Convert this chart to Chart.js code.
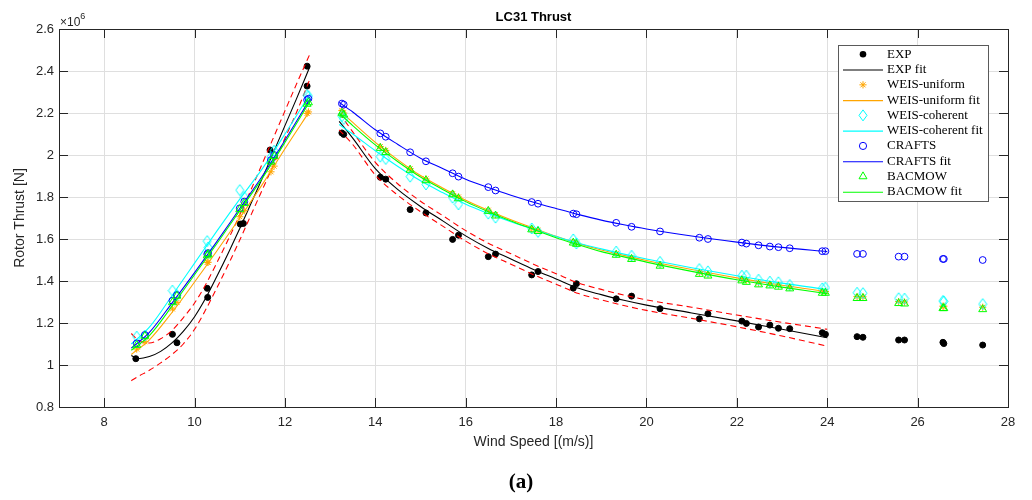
<!DOCTYPE html>
<html><head><meta charset="utf-8">
<script src="https://cdn.jsdelivr.net/npm/chart.js@4.4.1/dist/chart.umd.min.js"></script>
<style>html,body{margin:0;padding:0;background:#fff;}</style>
</head><body>
<canvas id="c" width="1032" height="500"></canvas>
<script>
// ---------- tick labels ----------
const xTicks = [8, 10, 12, 14, 16, 18, 20, 22, 24, 26, 28];
const yTicks = [0.8, 1, 1.2, 1.4, 1.6, 1.8, 2, 2.2, 2.4, 2.6];

// ---------- measured points (thrust in 10^6 N) ----------
const windLeft = [8.72, 8.90, 9.51, 9.61, 10.28, 10.30, 11.00, 11.10, 11.69, 11.76, 12.49, 12.52];
const windRight = [13.26, 13.30, 14.11, 14.23, 14.77, 15.12, 15.71, 15.84, 16.50, 16.66, 17.46, 17.60, 18.38, 18.45, 19.33, 19.67, 20.30, 21.17, 21.36, 22.11, 22.21, 22.48, 22.73, 22.92, 23.17, 23.89, 23.96, 24.66, 24.79, 25.58, 25.71, 26.56, 26.58, 27.44];

const expWindLeft = [8.70, 9.51, 9.61, 10.28, 10.29, 11.01, 11.08, 11.67, 12.49, 12.49];
const expLeft = [1.030, 1.146, 1.106, 1.365, 1.322, 1.671, 1.674, 2.024, 2.328, 2.423];
const expRight = [2.105, 2.098, 1.894, 1.885, 1.740, 1.724, 1.598, 1.618, 1.516, 1.528, 1.429, 1.445, 1.366, 1.387, 1.315, 1.328, 1.268, 1.220, 1.244, 1.209, 1.198, 1.181, 1.190, 1.175, 1.173, 1.154, 1.146, 1.135, 1.132, 1.119, 1.119, 1.108, 1.102, 1.095];

const uniformLeft = [1.076, 1.111, 1.267, 1.298, 1.489, 1.489, 1.706, 1.735, 1.920, 1.947, 2.198, 2.205];
const uniformRight = [2.212, 2.200, 2.040, 2.022, 1.935, 1.886, 1.816, 1.800, 1.737, 1.716, 1.648, 1.641, 1.586, 1.580, 1.530, 1.510, 1.478, 1.440, 1.432, 1.410, 1.404, 1.391, 1.385, 1.380, 1.372, 1.351, 1.350, 1.326, 1.325, 1.302, 1.300, 1.280, 1.280, 1.275];

const coherentLeft = [1.135, 1.140, 1.354, 1.333, 1.590, 1.560, 1.833, 1.800, 1.990, 2.020, 2.285, 2.280];
const coherentRight = [2.185, 2.172, 1.992, 1.981, 1.897, 1.860, 1.797, 1.765, 1.721, 1.702, 1.650, 1.634, 1.598, 1.579, 1.540, 1.520, 1.491, 1.457, 1.446, 1.425, 1.425, 1.406, 1.397, 1.394, 1.381, 1.365, 1.368, 1.344, 1.342, 1.318, 1.316, 1.305, 1.303, 1.290];

const craftsLeft = [1.103, 1.143, 1.306, 1.333, 1.528, 1.533, 1.746, 1.778, 1.976, 2.000, 2.262, 2.268];
const craftsRight = [2.245, 2.240, 2.103, 2.087, 2.013, 1.970, 1.913, 1.897, 1.847, 1.831, 1.776, 1.768, 1.721, 1.718, 1.677, 1.658, 1.636, 1.606, 1.600, 1.583, 1.578, 1.570, 1.564, 1.561, 1.556, 1.542, 1.542, 1.529, 1.529, 1.516, 1.516, 1.505, 1.505, 1.500];

const bacmowLeft = [1.095, 1.138, 1.298, 1.329, 1.521, 1.528, 1.741, 1.770, 1.968, 1.995, 2.243, 2.250];
const bacmowRight = [2.200, 2.192, 2.033, 2.013, 1.929, 1.879, 1.812, 1.793, 1.733, 1.711, 1.645, 1.637, 1.582, 1.576, 1.524, 1.504, 1.472, 1.433, 1.425, 1.402, 1.395, 1.383, 1.378, 1.372, 1.364, 1.343, 1.343, 1.318, 1.318, 1.294, 1.292, 1.270, 1.270, 1.265];

// ---------- fitted curves ----------
const expFitWindLeft = [8.6, 8.75, 9.0, 9.25, 9.5, 9.75, 10.0, 10.25, 10.5, 10.75, 11.0, 11.25, 11.5, 11.75, 12.0, 12.25, 12.55];
const expFitLeft   = [1.045, 1.030, 1.040, 1.065, 1.105, 1.160, 1.230, 1.320, 1.425, 1.535, 1.650, 1.770, 1.890, 2.015, 2.140, 2.265, 2.420];
const expUpperLeft = [1.150, 1.120, 1.105, 1.125, 1.165, 1.225, 1.295, 1.385, 1.490, 1.600, 1.715, 1.835, 1.960, 2.085, 2.210, 2.335, 2.480];
const expLowerLeft = [0.925, 0.945, 0.975, 1.010, 1.050, 1.100, 1.170, 1.265, 1.370, 1.480, 1.595, 1.715, 1.835, 1.955, 2.080, 2.200, 2.360];

const fitWindRight = [13.2, 13.5, 14, 14.5, 15, 15.5, 16, 16.5, 17, 17.5, 18, 18.5, 19, 19.5, 20, 21, 22, 23, 24];
const expFitRight   = [2.160, 2.080, 1.935, 1.835, 1.755, 1.685, 1.615, 1.555, 1.505, 1.455, 1.410, 1.365, 1.335, 1.308, 1.285, 1.248, 1.210, 1.170, 1.130];
const expUpperRight = [2.200, 2.110, 1.965, 1.862, 1.780, 1.710, 1.640, 1.580, 1.530, 1.480, 1.435, 1.390, 1.360, 1.333, 1.310, 1.275, 1.238, 1.203, 1.170];
const expLowerRight = [2.120, 2.050, 1.905, 1.808, 1.730, 1.660, 1.590, 1.530, 1.480, 1.430, 1.385, 1.340, 1.310, 1.283, 1.260, 1.222, 1.182, 1.138, 1.090];

const modelFitWindLeft = [8.6, 9.0, 9.5, 10.0, 10.5, 11.0, 11.5, 12.0, 12.55];
const uniformFitLeft  = [1.050, 1.120, 1.250, 1.395, 1.545, 1.700, 1.860, 2.030, 2.210];
const coherentFitLeft = [1.100, 1.180, 1.330, 1.485, 1.640, 1.790, 1.935, 2.100, 2.290];
const craftsFitLeft   = [1.080, 1.155, 1.295, 1.440, 1.590, 1.745, 1.900, 2.070, 2.265];
const bacmowFitLeft   = [1.070, 1.140, 1.280, 1.430, 1.580, 1.735, 1.890, 2.060, 2.255];

const uniformFitRight  = [2.215, 2.155, 2.060, 1.977, 1.902, 1.842, 1.784, 1.736, 1.692, 1.652, 1.613, 1.578, 1.548, 1.522, 1.498, 1.455, 1.415, 1.380, 1.350];
const coherentFitRight = [2.145, 2.100, 2.020, 1.945, 1.877, 1.820, 1.766, 1.722, 1.682, 1.646, 1.612, 1.580, 1.553, 1.528, 1.505, 1.463, 1.425, 1.390, 1.360];
const craftsFitRight   = [2.250, 2.205, 2.120, 2.050, 1.985, 1.935, 1.885, 1.845, 1.808, 1.775, 1.745, 1.716, 1.690, 1.668, 1.648, 1.614, 1.585, 1.560, 1.540];
const bacmowFitRight   = [2.200, 2.140, 2.048, 1.968, 1.895, 1.835, 1.778, 1.730, 1.686, 1.646, 1.606, 1.572, 1.540, 1.515, 1.490, 1.446, 1.406, 1.371, 1.340];

// ---------- styling ----------
const SANS = "'Liberation Sans', Arial, Helvetica, sans-serif";
const SERIF = "'Liberation Serif', 'Times New Roman', serif";
const AX = '#262626';
const C_EXP = '#000000', C_UNI = '#FFA500', C_COH = '#00FFFF', C_CRA = '#0000FF', C_BAC = '#00FF00', C_BND = '#FF0000';

function diamondCanvas(color) {
  const c = document.createElement('canvas');
  c.width = 10; c.height = 13;
  const g = c.getContext('2d');
  g.strokeStyle = color; g.lineWidth = 1;
  g.beginPath(); g.moveTo(5, 1); g.lineTo(9, 6.5); g.lineTo(5, 12); g.lineTo(1, 6.5); g.closePath(); g.stroke();
  return c;
}
const diamondImg = diamondCanvas(C_COH);

const pts = (xs, ys) => xs.map((x, i) => ({x: x, y: ys[i]}));
function scatterSet(label, xs, ys, style, color, r, fill, order) {
  return {label, data: pts(xs, ys), showLine: false, pointStyle: style, pointRadius: r,
    pointBorderColor: color, pointBackgroundColor: fill ? color : 'rgba(0,0,0,0)',
    pointBorderWidth: 1, borderColor: color, backgroundColor: color, order};
}
function lineSet(label, xs, ys, color, order, dash) {
  return {label, data: pts(xs, ys), showLine: true, pointRadius: 0, borderColor: color,
    borderWidth: 1.1, borderDash: dash || [], cubicInterpolationMode: 'monotone', fill: false, order};
}

const datasets = [
  scatterSet('EXP', expWindLeft.concat(windRight), expLeft.concat(expRight), 'circle', C_EXP, 3, true, 20),
  lineSet('EXP fit', expFitWindLeft, expFitLeft, C_EXP, 19),
  lineSet('EXP fit', fitWindRight, expFitRight, C_EXP, 19),
  lineSet('bound', expFitWindLeft, expUpperLeft, C_BND, 18, [6, 4]),
  lineSet('bound', expFitWindLeft, expLowerLeft, C_BND, 18, [6, 4]),
  lineSet('bound', fitWindRight, expUpperRight, C_BND, 18, [6, 4]),
  lineSet('bound', fitWindRight, expLowerRight, C_BND, 18, [6, 4]),
  scatterSet('WEIS-uniform', windLeft.concat(windRight), uniformLeft.concat(uniformRight), 'star', C_UNI, 3.6, false, 17),
  lineSet('WEIS-uniform fit', modelFitWindLeft, uniformFitLeft, C_UNI, 16),
  lineSet('WEIS-uniform fit', fitWindRight, uniformFitRight, C_UNI, 16),
  scatterSet('WEIS-coherent', windLeft.concat(windRight), coherentLeft.concat(coherentRight), diamondImg, C_COH, 5, false, 15),
  lineSet('WEIS-coherent fit', modelFitWindLeft, coherentFitLeft, C_COH, 14),
  lineSet('WEIS-coherent fit', fitWindRight, coherentFitRight, C_COH, 14),
  scatterSet('CRAFTS', windLeft.concat(windRight), craftsLeft.concat(craftsRight), 'circle', C_CRA, 3.4, false, 13),
  lineSet('CRAFTS fit', modelFitWindLeft, craftsFitLeft, C_CRA, 12),
  lineSet('CRAFTS fit', fitWindRight, craftsFitRight, C_CRA, 12),
  scatterSet('BACMOW', windLeft.concat(windRight), bacmowLeft.concat(bacmowRight), 'triangle', C_BAC, 4.6, false, 11),
  lineSet('BACMOW fit', modelFitWindLeft, bacmowFitLeft, C_BAC, 10),
  lineSet('BACMOW fit', fitWindRight, bacmowFitRight, C_BAC, 10)
];

const legendItems = [
  {label: 'EXP', kind: 'pt', style: 'circle', color: C_EXP, r: 3.3, fill: true},
  {label: 'EXP fit', kind: 'line', color: C_EXP},
  {label: 'WEIS-uniform', kind: 'pt', style: 'star', color: C_UNI, r: 3.6},
  {label: 'WEIS-uniform fit', kind: 'line', color: C_UNI},
  {label: 'WEIS-coherent', kind: 'pt', style: 'diamond', color: C_COH, r: 5},
  {label: 'WEIS-coherent fit', kind: 'line', color: C_COH},
  {label: 'CRAFTS', kind: 'pt', style: 'circle', color: C_CRA, r: 3.6},
  {label: 'CRAFTS fit', kind: 'line', color: C_CRA},
  {label: 'BACMOW', kind: 'pt', style: 'triangle', color: C_BAC, r: 4.6},
  {label: 'BACMOW fit', kind: 'line', color: C_BAC}
];

function drawMarker(ctx, it, x, y) {
  ctx.save();
  ctx.strokeStyle = it.color; ctx.fillStyle = it.color; ctx.lineWidth = 1;
  const r = it.r;
  ctx.beginPath();
  if (it.style === 'circle') {
    ctx.arc(x, y, r, 0, Math.PI * 2);
    if (it.fill) ctx.fill(); else ctx.stroke();
  } else if (it.style === 'star') {
    ctx.moveTo(x - r, y); ctx.lineTo(x + r, y);
    ctx.moveTo(x, y - r); ctx.lineTo(x, y + r);
    const d = r * 0.7071;
    ctx.moveTo(x - d, y - d); ctx.lineTo(x + d, y + d);
    ctx.moveTo(x - d, y + d); ctx.lineTo(x + d, y - d);
    ctx.stroke();
  } else if (it.style === 'diamond') {
    ctx.moveTo(x, y - 5.5); ctx.lineTo(x + 4, y); ctx.lineTo(x, y + 5.5); ctx.lineTo(x - 4, y); ctx.closePath(); ctx.stroke();
  } else if (it.style === 'triangle') {
    const h = r * 0.866;
    ctx.moveTo(x, y - r); ctx.lineTo(x + h, y + r * 0.5); ctx.lineTo(x - h, y + r * 0.5); ctx.closePath(); ctx.stroke();
  }
  ctx.restore();
}

const decor = {
  id: 'decor',
  afterDraw(chart) {
    const ctx = chart.ctx, a = chart.chartArea;
    const xs = chart.scales.x, ys = chart.scales.y;
    ctx.save();
    // box
    ctx.strokeStyle = AX; ctx.lineWidth = 1;
    ctx.beginPath();
    ctx.moveTo(Math.round(a.left) + 0.5, Math.round(a.top) + 0.5);
    ctx.lineTo(Math.round(a.right) + 0.5, Math.round(a.top) + 0.5);
    ctx.lineTo(Math.round(a.right) + 0.5, Math.round(a.bottom) + 0.5);
    ctx.stroke();
    // inward ticks
    const TL = 9;
    ctx.beginPath();
    xTicks.forEach(v => {
      const px = Math.round(xs.getPixelForValue(v)) + 0.5;
      ctx.moveTo(px, a.bottom); ctx.lineTo(px, a.bottom - TL);
      ctx.moveTo(px, a.top); ctx.lineTo(px, a.top + TL);
    });
    yTicks.forEach(v => {
      const py = Math.round(ys.getPixelForValue(v)) + 0.5;
      ctx.moveTo(a.left, py); ctx.lineTo(a.left + TL, py);
      ctx.moveTo(a.right, py); ctx.lineTo(a.right - TL, py);
    });
    ctx.stroke();
    // exponent label
    ctx.fillStyle = AX; ctx.textBaseline = 'alphabetic'; ctx.textAlign = 'left';
    ctx.font = '12px ' + SANS;
    ctx.fillText('\u00d710', 60, 26);
    const w = ctx.measureText('\u00d710').width;
    ctx.font = '9px ' + SANS;
    ctx.fillText('6', 60 + w, 19);
    // title
    ctx.fillStyle = '#000';
    ctx.font = 'bold 13px ' + SANS; ctx.textAlign = 'center'; ctx.textBaseline = 'middle';
    ctx.fillText('LC31 Thrust', (a.left + a.right) / 2, 17);
    // caption
    ctx.font = 'bold 21px ' + SERIF;
    ctx.fillText('(a)', 521, 483);
    // legend
    const L = 838.5, T = 45.5, W = 150, H = 156;
    ctx.fillStyle = '#fff'; ctx.fillRect(L, T, W, H);
    ctx.strokeStyle = '#5a5a5a'; ctx.lineWidth = 1; ctx.strokeRect(L, T, W, H);
    ctx.font = '13px ' + SERIF; ctx.textAlign = 'left'; ctx.textBaseline = 'middle';
    legendItems.forEach((it, i) => {
      const y = 54.3 + i * 15.27;
      if (it.kind === 'line') {
        ctx.strokeStyle = it.color; ctx.lineWidth = 1.1;
        ctx.beginPath(); ctx.moveTo(843, y + 0.5); ctx.lineTo(883, y + 0.5); ctx.stroke();
      } else {
        drawMarker(ctx, it, 863, y);
      }
      ctx.fillStyle = '#000';
      ctx.fillText(it.label, 887, y);
    });
    ctx.restore();
  }
};

new Chart(document.getElementById('c'), {
  type: 'scatter',
  data: {datasets},
  options: {
    responsive: false, animation: false, devicePixelRatio: 1, events: [],
    layout: {padding: {top: 29, right: 24, left: 0, bottom: 0}},
    plugins: {legend: {display: false}, tooltip: {enabled: false}, title: {display: false}},
    scales: {
      x: {
        type: 'linear', min: 7, max: 28,
        afterBuildTicks: s => { s.ticks = xTicks.map(v => ({value: v})); },
        afterFit: s => { s.height = 93; },
        grid: {color: '#dfdfdf', drawTicks: false, lineWidth: 1},
        border: {display: true, color: AX, width: 1},
        ticks: {padding: 8, color: AX, font: {family: SANS, size: 13}, maxRotation: 0, autoSkip: false,
          callback: v => String(v)},
        title: {display: true, text: 'Wind Speed [(m/s)]', color: AX, font: {family: SANS, size: 14},
          padding: {top: 0, bottom: 49}}
      },
      y: {
        type: 'linear', min: 0.8, max: 2.6,
        afterBuildTicks: s => { s.ticks = yTicks.map(v => ({value: v})); },
        afterFit: s => { s.width = 59; },
        grid: {color: '#dfdfdf', drawTicks: false, lineWidth: 1},
        border: {display: true, color: AX, width: 1},
        ticks: {padding: 5, color: AX, font: {family: SANS, size: 13}, autoSkip: false,
          callback: v => String(Math.round(v * 10) / 10)},
        title: {display: true, text: 'Rotor Thrust [N]', color: AX, font: {family: SANS, size: 14},
          padding: {top: 12, bottom: 0}}
      }
    }
  },
  plugins: [decor]
});
</script>
</body></html>
